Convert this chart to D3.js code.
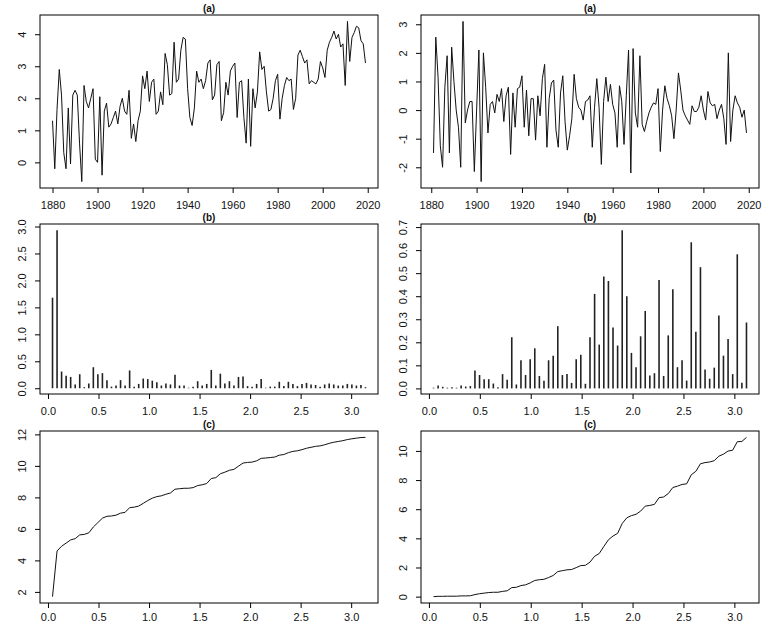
<!DOCTYPE html>
<html>
<head>
<meta charset="utf-8">
<script src="https://cdn.jsdelivr.net/npm/d3@7"></script>
<style>
body { margin: 0; background: #fff; }
text { font-family: "Liberation Sans", Arial, sans-serif; }
</style>
</head>
<body>
<script>
// series: yearly level 1880-2019 and its yearly change 1881-2019
var levelStart = 1880, diffStart = 1881;

var tempLevel = [
  1.3, -0.2, 1.65, 2.9, 2.1, 0.3, -0.2, 1.7, -0.05, 2.1,
  2.25, 2.1, 0.6, -0.6, 2.4, 1.9, 1.7, 2.0, 2.3, 0.1,
  0.0, 2.05, -0.4, 1.6, 1.85, 1.1, 1.2, 1.4, 1.6, 1.2,
  1.75, 2.0, 1.6, 1.5, 2.25, 0.75, 1.2, 0.65, 1.3, 1.6,
  2.7, 2.3, 2.85, 1.9, 2.5, 2.6, 1.5, 1.6, 2.2, 1.8,
  3.4, 3.05, 2.1, 2.15, 3.75, 2.5, 2.6, 3.5, 3.9, 3.85,
  2.3, 1.4, 1.15, 1.7, 2.85, 2.5, 2.6, 2.3, 2.55, 3.1,
  3.2, 1.95, 2.1, 3.05, 3.15, 1.3, 1.55, 2.5, 2.1, 2.85,
  3.0, 3.1, 1.4, 2.5, 2.55, 1.4, 0.6, 2.6, 0.5, 2.3,
  1.7, 2.2, 3.45, 2.9, 3.0, 2.2, 1.6, 1.65, 2.0, 2.55,
  2.75, 1.35, 2.0, 2.4, 2.65, 2.55, 2.6, 1.65, 2.0, 3.35,
  3.5, 3.3, 3.1, 3.2, 2.45, 2.55, 2.5, 2.45, 2.6, 3.15,
  2.95, 2.65, 3.5, 3.75, 3.9, 4.1, 3.85, 4.0, 3.6, 3.7,
  2.4, 4.4, 3.15, 3.9, 4.05, 4.25, 4.2, 3.8, 3.7, 3.1
];

var tempDiff = [
  -1.5, 2.55, 1.15, -1.25, -2.0, 0.8, 1.9, -1.5, 2.2, 1.0,
  0.0, -0.6, -2.0, 3.1, -0.45, 0.0, 0.3, 0.3, -2.15, 0.0,
  2.1, -2.5, 2.0, 0.8, -0.8, 0.2, 0.3, -0.1, 0.55, 0.3,
  0.75, -0.4, 0.5, 0.8, -1.55, 0.6, -0.6, 0.75, 0.8, 1.2,
  -0.6, 0.7, -0.9, 0.4, 0.4, -1.05, 0.5, -0.2, 1.1, 1.6,
  -1.3, 0.4, 0.95, 1.05, -0.7, -1.3, 0.6, 1.2, -0.4, -1.4,
  -0.9, -0.3, 1.25, 0.4, 0.1, 0.0, -0.35, 0.3, 0.35, 0.5,
  -1.3, 0.1, 1.1, 0.1, -1.9, 0.3, 1.15, 0.3, 0.9, 0.2,
  -0.1, -1.3, 0.85, 0.3, -1.2, 0.5, 2.1, -2.2, 2.15, -0.1,
  -0.6, 1.9, -0.5, -0.75, -0.4, -0.1, 0.1, 0.25, 0.2, 0.75,
  -1.45, 0.0, 0.85, 0.4, 0.15, -0.2, -1.0, 0.0, 1.3, 0.7,
  0.0, -0.2, -0.35, -0.5, 0.15, -0.05, -0.05, 0.1, 0.5, 0.0,
  -0.35, 0.65, 0.25, 0.15, 0.2, -0.3, 0.0, 0.2, -0.3, -1.2,
  2.0, -1.1, 0.0, 0.5, 0.25, 0.1, -0.25, 0.0, -0.8
];

// periodogram ordinates at the Fourier frequencies
var specLevel = [
  1.68, 2.93, 0.31, 0.23, 0.21, 0.07, 0.26, 0.02, 0.09, 0.39,
  0.26, 0.28, 0.15, 0.03, 0.05, 0.15, 0.05, 0.33, 0.03, 0.08,
  0.18, 0.17, 0.14, 0.11, 0.05, 0.09, 0.07, 0.25, 0.05, 0.05,
  0.01, 0.03, 0.13, 0.05, 0.08, 0.34, 0.05, 0.27, 0.09, 0.13,
  0.05, 0.21, 0.22, 0.04, 0.03, 0.08, 0.17, 0.01, 0.03, 0.03,
  0.12, 0.04, 0.12, 0.08, 0.04, 0.08, 0.10, 0.07, 0.06, 0.03,
  0.07, 0.09, 0.07, 0.05, 0.05, 0.08, 0.07, 0.05, 0.06, 0.02
];

var specDiff = [
  0.003, 0.013, 0.007, 0.003, 0.005, 0.003, 0.013, 0.008, 0.010, 0.078,
  0.058, 0.040, 0.040, 0.021, 0.005, 0.062, 0.037, 0.222, 0.017, 0.122,
  0.058, 0.126, 0.174, 0.054, 0.033, 0.122, 0.142, 0.270, 0.058, 0.062,
  0.024, 0.126, 0.146, 0.020, 0.222, 0.410, 0.190, 0.486, 0.466, 0.264,
  0.186, 0.686, 0.400, 0.154, 0.092, 0.226, 0.336, 0.056, 0.066, 0.470,
  0.054, 0.230, 0.430, 0.092, 0.122, 0.034, 0.634, 0.246, 0.526, 0.082,
  0.042, 0.090, 0.316, 0.142, 0.214, 0.062, 0.582, 0.024, 0.286
];

// cumulative periodogram
var cumLevel = [
  1.70, 4.60, 4.90, 5.10, 5.30, 5.38, 5.62, 5.65, 5.75, 6.12,
  6.40, 6.68, 6.80, 6.82, 6.87, 7.00, 7.05, 7.35, 7.38, 7.45,
  7.62, 7.80, 7.95, 8.05, 8.10, 8.20, 8.28, 8.52, 8.55, 8.58,
  8.58, 8.62, 8.75, 8.80, 8.88, 9.20, 9.25, 9.50, 9.60, 9.72,
  9.78, 9.98, 10.18, 10.22, 10.24, 10.32, 10.48, 10.50, 10.53, 10.56,
  10.68, 10.72, 10.84, 10.92, 10.96, 11.03, 11.12, 11.18, 11.24, 11.27,
  11.34, 11.43, 11.50, 11.55, 11.60, 11.67, 11.72, 11.76, 11.80, 11.81
];

var cumDiff = [
  0.00, 0.02, 0.02, 0.03, 0.03, 0.03, 0.05, 0.05, 0.06, 0.14,
  0.20, 0.24, 0.28, 0.30, 0.30, 0.36, 0.40, 0.62, 0.64, 0.76,
  0.81, 0.94, 1.11, 1.16, 1.19, 1.31, 1.45, 1.72, 1.78, 1.84,
  1.86, 1.99, 2.13, 2.15, 2.37, 2.77, 2.96, 3.44, 3.90, 4.16,
  4.34, 5.02, 5.41, 5.56, 5.65, 5.87, 6.21, 6.26, 6.33, 6.79,
  6.84, 7.07, 7.49, 7.58, 7.70, 7.74, 8.36, 8.60, 9.12, 9.20,
  9.24, 9.33, 9.64, 9.78, 9.99, 10.05, 10.63, 10.65, 10.93
];

var yearTicks = [1880, 1900, 1920, 1940, 1960, 1980, 2000, 2020];
var freqTicks = [0, 0.5, 1, 1.5, 2, 2.5, 3];
var levelTicks = [0, 1, 2, 3, 4];
var diffTicks = [-2, -1, 0, 1, 2, 3];
var specLevelTicks = [0, 0.5, 1, 1.5, 2, 2.5, 3];
var specDiffTicks = [0, 0.1, 0.2, 0.3, 0.4, 0.5, 0.6, 0.7];
var cumLevelTicks = [2, 4, 6, 8, 10, 12];
var cumDiffTicks = [0, 2, 4, 6, 8, 10];

var years = function(start, n) { return d3.range(n).map(function(i) { return start + i; }); };
var fourier = function(n, m) { return d3.range(1, m + 1).map(function(k) { return 2 * Math.PI * k / n; }); };

var width = 765,
    height = 628,
    svg = d3.select("body")
    .append("svg")
    .attr("width", width)
    .attr("height", height);

var colX = [40, 421], boxW = 338,
    rowY = [15, 224, 431], rowH = [173, 170, 172],
    xPad = [8, 8, 5];

// R-style 4% padding around the data range
function padded(v) {
  var e = d3.extent(v), p = (e[1] - e[0]) * 0.04;
  return [e[0] - p, e[1] + p];
}

var plain = function(v) { return String(v); };
var one = function(v) { return v.toFixed(1); };

function panel(c, r, xv, yv, type, xt, xf, yt, yf, title) {
  var x0 = colX[c], y0 = rowY[r], h = rowH[r];
  var x = d3.scaleLinear().domain(padded(xv)).range([x0, x0 + boxW]);
  var y = d3.scaleLinear().domain(padded(yv)).range([y0 + h, y0]);
  var pts = xv.map(function(d, i) { return [d, yv[i]]; });
  var g = svg.append("g");

  if (type == "h") {
    g.selectAll("line.bar")
      .data(pts)
      .enter().append("line")
        .attr("class", "bar")
        .attr("x1", function(d) { return x(d[0]); })
        .attr("x2", function(d) { return x(d[0]); })
        .attr("y1", y(0))
        .attr("y2", function(d) { return y(d[1]); })
        .attr("stroke", "#222")
        .attr("stroke-width", 1.6);
  } else {
    g.append("path")
      .datum(pts)
      .attr("fill", "none")
      .attr("stroke", "#111")
      .attr("stroke-width", 1)
      .attr("stroke-linejoin", "round")
      .attr("d", d3.line()
        .x(function(d) { return x(d[0]); })
        .y(function(d) { return y(d[1]); }));
  }

  g.append("rect")
    .attr("x", x0)
    .attr("y", y0)
    .attr("width", boxW)
    .attr("height", h)
    .attr("fill", "none")
    .attr("stroke", "#000");

  var ax = g.append("g")
    .attr("transform", "translate(0," + (y0 + h) + ")")
    .call(d3.axisBottom(x).tickValues(xt).tickSize(5).tickPadding(xPad[r]).tickFormat(xf));
  ax.select(".domain").remove();
  ax.attr("font-size", 11).attr("font-family", null).selectAll("text").attr("fill", "#111");

  var ay = g.append("g")
    .attr("transform", "translate(" + x0 + ",0)")
    .call(d3.axisLeft(y).tickValues(yt).tickSize(5).tickFormat(yf));
  ay.select(".domain").remove();
  ay.attr("font-size", 11).attr("font-family", null).selectAll("text")
    .attr("fill", "#111")
    .attr("x", 0)
    .attr("y", -14)
    .attr("dy", null)
    .attr("text-anchor", "middle")
    .attr("transform", "rotate(-90)");

  g.append("text")
    .attr("x", x0 + boxW / 2)
    .attr("y", y0 - 3)
    .attr("text-anchor", "middle")
    .attr("font-size", 10)
    .attr("font-weight", "bold")
    .attr("fill", "#111")
    .text(title);
}

panel(0, 0, years(levelStart, tempLevel.length), tempLevel, "l", yearTicks, plain, levelTicks, plain, "(a)");
panel(1, 0, years(diffStart, tempDiff.length), tempDiff, "l", yearTicks, plain, diffTicks, plain, "(a)");
panel(0, 1, fourier(tempLevel.length, specLevel.length), specLevel, "h", freqTicks, one, specLevelTicks, one, "(b)");
panel(1, 1, fourier(tempDiff.length, specDiff.length), specDiff, "h", freqTicks, one, specDiffTicks, one, "(b)");
panel(0, 2, fourier(tempLevel.length, cumLevel.length), cumLevel, "l", freqTicks, one, cumLevelTicks, plain, "(c)");
panel(1, 2, fourier(tempDiff.length, cumDiff.length), cumDiff, "l", freqTicks, one, cumDiffTicks, plain, "(c)");
</script>
</body>
</html>
